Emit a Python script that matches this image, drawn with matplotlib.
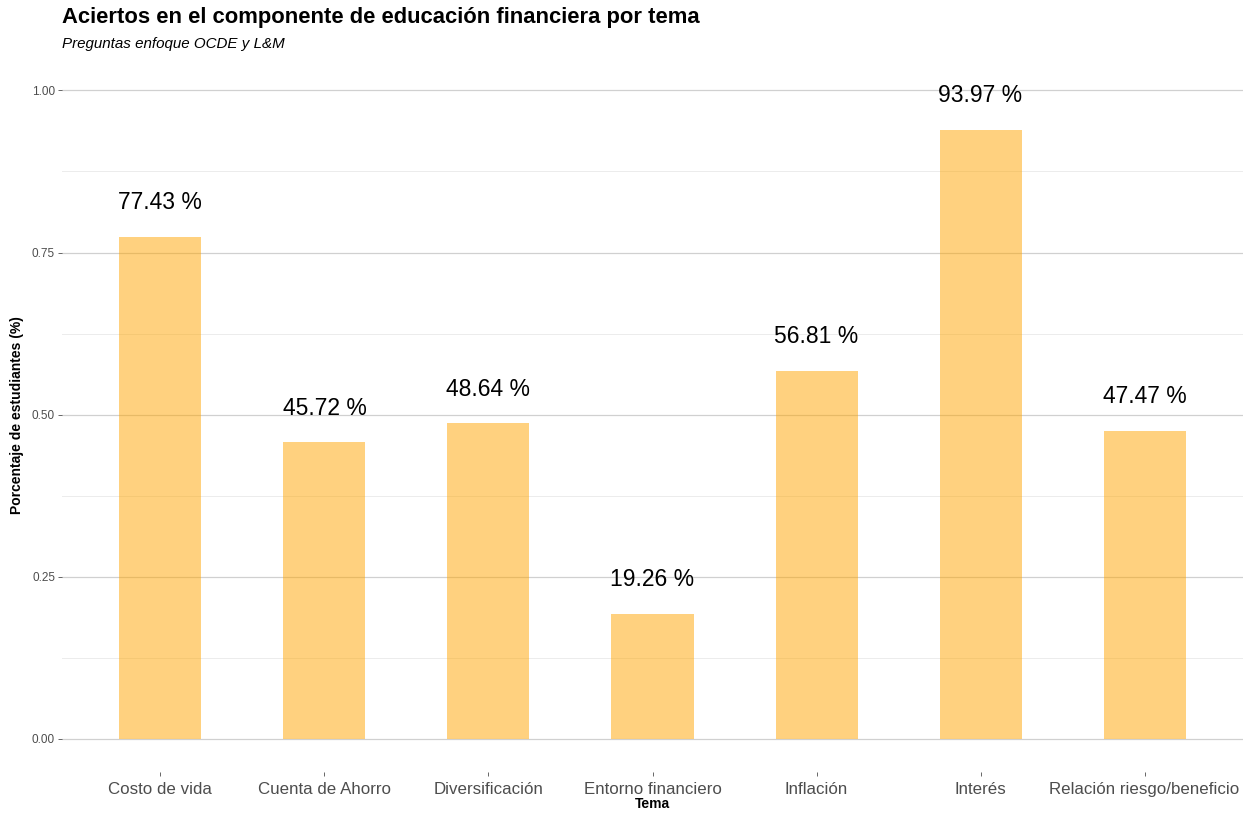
import matplotlib.pyplot as plt
import numpy as np

plt.rcParams['font.family'] = ['Liberation Sans', 'DejaVu Sans']

temas = ['Costo de vida', 'Cuenta de Ahorro', 'Diversificación', 'Entorno financiero',
         'Inflación', 'Interés', 'Relación riesgo/beneficio']
aciertos = [0.7743, 0.4572, 0.4864, 0.1926, 0.5681, 0.9397, 0.4747]
yticks = [0.0, 0.25, 0.5, 0.75, 1.0]
ylabels = ['0.00', '0.25', '0.50', '0.75', '1.00']

fig = plt.figure(figsize=(12.53, 8.14), dpi=100)
ax = fig.add_axes([62 / 1253, 1 - 772 / 814, (1243 - 62) / 1253, (772 - 58) / 814])

x = np.arange(1, len(temas) + 1)
ax.bar(x, aciertos, width=0.5, color='#FFA500', alpha=0.5, zorder=2)
for xi, v in zip(x, aciertos):
    ax.text(xi, v + 0.035, f'{v * 100:.2f} %', ha='center', va='bottom',
            fontsize=16.5, color='black')

ax.set_xlim(0.4, 7.6)
ax.set_ylim(-0.051, 1.05)
ax.set_yticks(yticks)
ax.set_yticklabels(ylabels)
ax.set_yticks([0.125, 0.375, 0.625, 0.875], minor=True)
ax.set_xticks(x)
ax.set_xticklabels(temas)

ax.grid(axis='y', which='major', color='#d0d0d0', linewidth=0.9, zorder=0)
ax.grid(axis='y', which='minor', color='#ececec', linewidth=0.7, zorder=0)
ax.tick_params(axis='y', which='minor', length=0)
ax.tick_params(axis='y', which='major', labelsize=8.5, labelcolor='#4d4d4d',
               color='#4d4d4d', length=3, width=0.6, pad=2)
ax.tick_params(axis='x', labelsize=12.2, labelcolor='#4d4d4d', color='#4d4d4d',
               length=3, width=0.6, pad=4)
for s in ax.spines.values():
    s.set_visible(False)

ax.set_xlabel('Tema', fontsize=10, fontweight='bold', labelpad=0)
ax.set_ylabel('Porcentaje de estudiantes (%)', fontsize=10, fontweight='bold', labelpad=6)

fig.text(62 / 1253, 1 - 18 / 814, 'Aciertos en el componente de educación financiera por tema',
         fontsize=15.8, fontweight='bold', va='center', ha='left')
fig.text(62 / 1253, 1 - 44 / 814, 'Preguntas enfoque OCDE y L&M',
         fontsize=10.9, style='italic', va='center', ha='left')

plt.savefig('out.png', dpi=100)
